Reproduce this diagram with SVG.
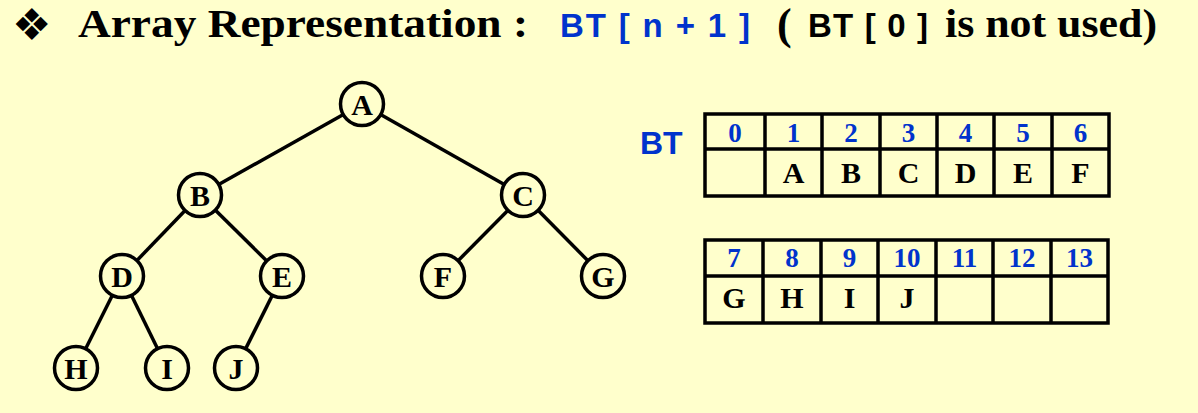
<svg xmlns="http://www.w3.org/2000/svg" width="1198" height="413" viewBox="0 0 1198 413">
<style>
.bg{fill:#FFFFCC}
.ttl{font-family:"Liberation Serif","Times New Roman",serif;font-weight:bold;font-size:40px;fill:#000}
.sans{font-family:"Liberation Sans",Arial,sans-serif;font-weight:bold;font-size:32px}
.blue{fill:#0033CC}
.blk{fill:#000}
.edge{stroke:#000;stroke-width:3.5;fill:none}
.node circle{fill:#FFFFCC;stroke:#000;stroke-width:3.5}
.node text{font-family:"Liberation Serif","Times New Roman",serif;font-weight:bold;font-size:30px;fill:#000;text-anchor:middle}
.grid{fill:none;stroke:#000;stroke-width:3.5}
.idx{font-family:"Liberation Serif","Times New Roman",serif;font-weight:bold;font-size:27px;fill:#0033CC;text-anchor:middle}
.val{font-family:"Liberation Serif","Times New Roman",serif;font-weight:bold;font-size:30px;fill:#000;text-anchor:middle}
</style>
<rect class="bg" x="0" y="0" width="1198" height="413"/>
<g id="title">
<text x="12" y="40" font-family="DejaVu Sans,sans-serif" font-size="44" fill="#000">❖</text>
<text class="ttl" x="78" y="37" textLength="450" lengthAdjust="spacingAndGlyphs">Array Representation :</text>
<text class="sans blue" x="560" y="37" style="font-size:33px" textLength="190" lengthAdjust="spacing">BT [ n + 1 ]</text>
<text class="ttl" x="777" y="39" style="font-size:44px">(</text>
<text class="sans blk" x="808" y="37" style="font-size:33px" textLength="120" lengthAdjust="spacing">BT [ 0 ]</text>
<text class="ttl" x="945" y="37" textLength="212" lengthAdjust="spacingAndGlyphs">is not used)</text>
</g>
<g id="connectors">
<line class="edge" x1="362" y1="104" x2="200" y2="195"/>
<line class="edge" x1="362" y1="104" x2="523" y2="195"/>
<line class="edge" x1="200" y1="195" x2="122" y2="276"/>
<line class="edge" x1="200" y1="195" x2="282" y2="276"/>
<line class="edge" x1="523" y1="195" x2="443" y2="276"/>
<line class="edge" x1="523" y1="195" x2="603" y2="276"/>
<line class="edge" x1="122" y1="276" x2="76" y2="368"/>
<line class="edge" x1="122" y1="276" x2="167" y2="368"/>
<line class="edge" x1="282" y1="276" x2="236" y2="368"/>
</g>
<g id="node-A" class="node"><circle cx="362" cy="104" r="21.5"/><text x="362" y="115">A</text></g>
<g id="node-B" class="node"><circle cx="200" cy="195" r="21.5"/><text x="200" y="206">B</text></g>
<g id="node-C" class="node"><circle cx="523" cy="195" r="21.5"/><text x="523" y="206">C</text></g>
<g id="node-D" class="node"><circle cx="122" cy="276" r="21.5"/><text x="122" y="287">D</text></g>
<g id="node-E" class="node"><circle cx="282" cy="276" r="21.5"/><text x="282" y="287">E</text></g>
<g id="node-F" class="node"><circle cx="443" cy="276" r="21.5"/><text x="443" y="287">F</text></g>
<g id="node-G" class="node"><circle cx="603" cy="276" r="21.5"/><text x="603" y="287">G</text></g>
<g id="node-H" class="node"><circle cx="76" cy="368" r="21.5"/><text x="76" y="379">H</text></g>
<g id="node-I" class="node"><circle cx="167" cy="368" r="21.5"/><text x="167" y="379">I</text></g>
<g id="node-J" class="node"><circle cx="236" cy="368" r="21.5"/><text x="236" y="379">J</text></g>
<g id="bt-label"><text class="sans blue" x="640" y="154">BT</text></g>
<g id="table-1">
<rect class="grid" x="705" y="114" width="404" height="82"/>
<path class="grid" d="M705 149H1109M765 114V196M822 114V196M880 114V196M937 114V196M994 114V196M1052 114V196"/>
<text class="idx" x="735" y="142">0</text>
<text class="idx" x="793.5" y="142">1</text>
<text class="idx" x="851" y="142">2</text>
<text class="idx" x="908.5" y="142">3</text>
<text class="idx" x="965.5" y="142">4</text>
<text class="idx" x="1023" y="142">5</text>
<text class="idx" x="1080.5" y="142">6</text>
<text class="val" x="793.5" y="183">A</text>
<text class="val" x="851" y="183">B</text>
<text class="val" x="908.5" y="183">C</text>
<text class="val" x="965.5" y="183">D</text>
<text class="val" x="1023" y="183">E</text>
<text class="val" x="1080.5" y="183">F</text>
</g>
<g id="table-2">
<rect class="grid" x="705" y="240" width="403" height="83"/>
<path class="grid" d="M705 276H1108M763 240V323M821 240V323M878 240V323M936 240V323M993 240V323M1051 240V323"/>
<text class="idx" x="734" y="267">7</text>
<text class="idx" x="792" y="267">8</text>
<text class="idx" x="849.5" y="267">9</text>
<text class="idx" x="907" y="267">10</text>
<text class="idx" x="964.5" y="267">11</text>
<text class="idx" x="1022" y="267">12</text>
<text class="idx" x="1079.5" y="267">13</text>
<text class="val" x="734" y="308">G</text>
<text class="val" x="792" y="308">H</text>
<text class="val" x="849.5" y="308">I</text>
<text class="val" x="907" y="308">J</text>
</g>
</svg>
